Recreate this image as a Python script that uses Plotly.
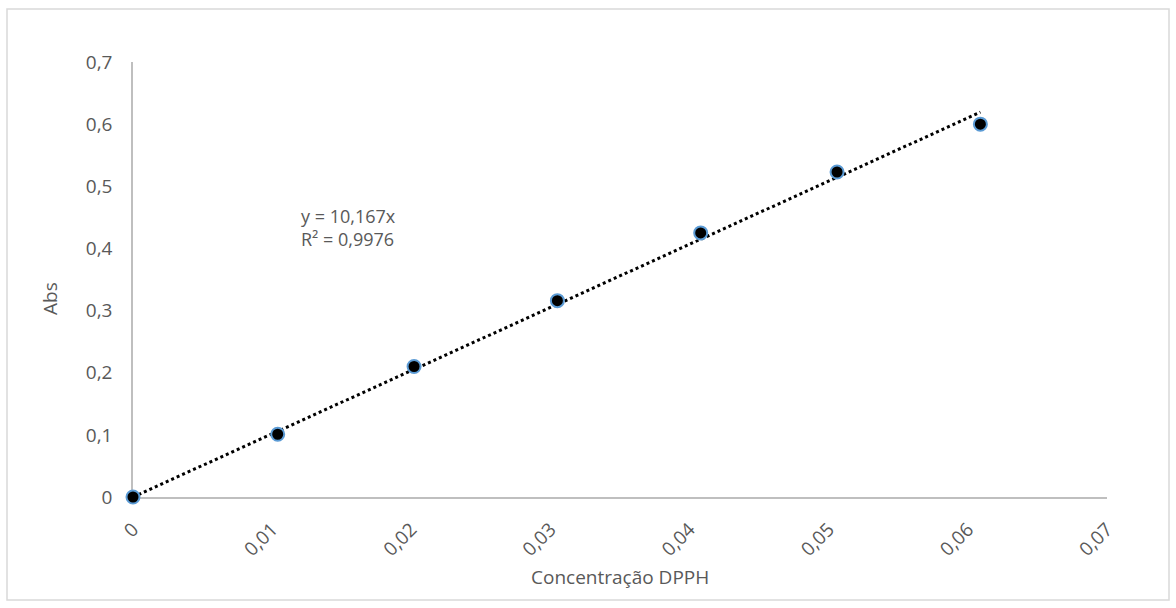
import plotly.graph_objects as go

# Calibration data: DPPH concentration vs absorbance
concentracao = [0, 0.0104, 0.0202, 0.0305, 0.0408, 0.0506, 0.0609]
absorbancia = [0, 0.101, 0.210, 0.316, 0.425, 0.523, 0.600]

# Linear fit through the origin (as reported on the chart)
inclinacao = 10.167
r2 = 0.9976

x_ticks = [0, 0.01, 0.02, 0.03, 0.04, 0.05, 0.06, 0.07]
x_tick_text = ["0", "0,01", "0,02", "0,03", "0,04", "0,05", "0,06", "0,07"]
y_ticks = [0, 0.1, 0.2, 0.3, 0.4, 0.5, 0.6, 0.7]
y_tick_text = ["0", "0,1", "0,2", "0,3", "0,4", "0,5", "0,6", "0,7"]

W, H = 1176, 608
L, R, T, B = 133, 69, 62, 111
pw, ph = W - L - R, H - T - B

def px_x(p):
    return (p - L) / pw

def px_y(p):
    return (H - B - p) / ph

FONT = "Open Sans"
GREY = "#595959"
FS = 19

fig = go.Figure()

trend_x = [0, max(concentracao)]
trend_y = [inclinacao * v for v in trend_x]
fig.add_trace(go.Scatter(
    x=trend_x, y=trend_y, mode="lines",
    line=dict(color="black", width=3, dash="dot"),
    hoverinfo="skip", showlegend=False, cliponaxis=False,
))

fig.add_trace(go.Scatter(
    x=concentracao, y=absorbancia, mode="markers",
    marker=dict(size=13, color="black", line=dict(color="#5B9BD5", width=2)),
    showlegend=False, cliponaxis=False,
))

fig.update_xaxes(
    range=[0, 0.07], tickvals=x_ticks, ticktext=x_tick_text, tickangle=-45,
    showgrid=False, zeroline=False, showline=True, linecolor="#BFBFBF", linewidth=1.5,
    layer="below traces",
    ticks="", ticklabelstandoff=12, tickfont=dict(family=FONT, size=FS, color=GREY),
)
fig.update_yaxes(
    range=[0, 0.7], tickvals=y_ticks, ticktext=y_tick_text,
    showgrid=False, zeroline=False, showline=True, linecolor="#BFBFBF", linewidth=1.5,
    layer="below traces",
    ticks="", ticklabelstandoff=15, tickfont=dict(family=FONT, size=FS, color=GREY),
)

annotations = [
    dict(text="Concentração DPPH", x=0.5, y=px_y(577), xref="paper", yref="paper",
         showarrow=False, font=dict(family=FONT, size=FS, color=GREY), xanchor="center", yanchor="middle"),
    dict(text="Abs", x=px_x(50), y=px_y(299), xref="paper", yref="paper", textangle=-90,
         showarrow=False, font=dict(family=FONT, size=FS, color=GREY), xanchor="center", yanchor="middle"),
    dict(text=f"y = {inclinacao:.3f}x".replace(".", ",") + "<br>" + f"R² = {r2:.4f}".replace(".", ","),
         x=px_x(299), y=px_y(227), xref="paper", yref="paper", align="left",
         showarrow=False, font=dict(family=FONT, size=FS - 1, color=GREY), xanchor="left", yanchor="middle"),
]

fig.update_layout(
    width=W, height=H, autosize=False,
    margin=dict(l=L, r=R, t=T, b=B),
    paper_bgcolor="white", plot_bgcolor="white",
    annotations=annotations,
    shapes=[dict(type="rect", xref="paper", yref="paper",
                 x0=px_x(7), x1=px_x(1169), y0=px_y(600), y1=px_y(9),
                 line=dict(color="#D9D9D9", width=1.5), fillcolor="rgba(0,0,0,0)", layer="below")],
)

fig.write_html("out.html")
